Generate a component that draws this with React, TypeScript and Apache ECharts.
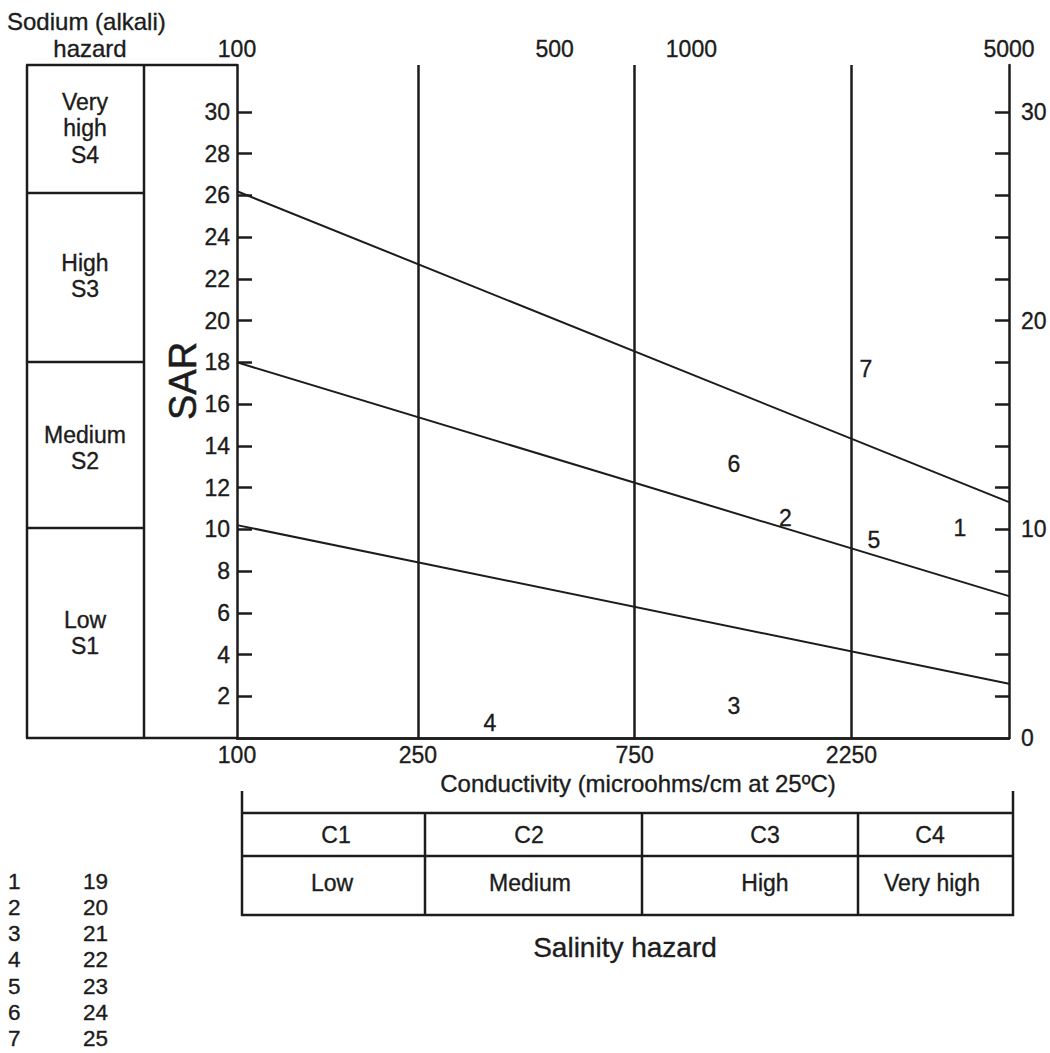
import React, { useEffect, useRef } from "react";
import * as echarts from "echarts";

// ---- data ----
const xMin = 100;
const xMax = 5000;
const ySarMax = 32.25;
const topTickValues = [100, 500, 1000, 5000];
const bottomTickValues = [100, 250, 750, 2250];
const classBoundaries = [250, 750, 2250];
const sarLeftTicks = [2, 4, 6, 8, 10, 12, 14, 16, 18, 20, 22, 24, 26, 28, 30];
const sarRightLabels = [0, 10, 20, 30];
const sarRightTicks = [2, 4, 6, 8, 10, 12, 14, 16, 18, 20, 22, 24, 26, 28, 30];

const lineS3S4 = [[100, 26.2], [5000, 11.3]];
const lineS2S3 = [[100, 18.0], [5000, 6.8]];
const lineS1S2 = [[100, 10.2], [5000, 2.6]];

const sampleIds = ["1", "2", "3", "4", "5", "6", "7"];
const sampleEC = [3900, 1610, 1240, 360, 2520, 1240, 2420];
const sampleSAR = [10.05, 10.55, 1.55, 0.72, 9.5, 13.15, 17.7];

const sodiumClasses = [
  ["Very", "high", "S4"],
  ["High", "S3"],
  ["Medium", "S2"],
  ["Low", "S1"],
];
const salinityCodes = ["C1", "C2", "C3", "C4"];
const salinityNames = ["Low", "Medium", "High", "Very high"];
const legendLeft = ["1", "2", "3", "4", "5", "6", "7"];
const legendRight = ["19", "20", "21", "22", "23", "24", "25"];

const FONT = "'Liberation Sans', Arial, Helvetica, sans-serif";
const INK = "#1c1c1c";
const BORDER = 0.35;

export default function App() {
  const ref = useRef<HTMLDivElement>(null);

  useEffect(() => {
    if (!ref.current) return;
    const chart = echarts.init(ref.current, undefined, { renderer: "svg" });

    const txt = (x: number, y: number, s: string, size = 23, align = "center", extra: any = {}) => ({
      type: "text",
      x,
      y,
      style: {
        text: s,
        font: `${size}px ${FONT}`,
        fill: INK,
        stroke: INK,
        lineWidth: BORDER,
        align,
        verticalAlign: "middle",
      },
      ...extra,
    });
    const ln = (x1: number, y1: number, x2: number, y2: number, w = 2.5) => ({
      type: "line",
      shape: { x1, y1, x2, y2 },
      style: { stroke: INK, lineWidth: w },
    });

    const graphics: any[] = [];
    // top-left heading
    graphics.push(txt(7, 21, "Sodium (alkali)", 24, "left"));
    graphics.push(txt(90, 48, "hazard", 24, "center"));
    // left hazard table
    graphics.push(ln(26, 65, 237, 65));
    graphics.push(ln(26, 738, 237, 738));
    graphics.push(ln(27, 65, 27, 738));
    graphics.push(ln(144, 65, 144, 738));
    [193, 362, 528].forEach((y) => graphics.push(ln(27, y, 144, y)));
    const classCenters = [128, 276, 448, 633];
    sodiumClasses.forEach((rows, i) => {
      const lh = 26.5;
      const start = classCenters[i] - ((rows.length - 1) * lh) / 2;
      rows.forEach((r, j) => graphics.push(txt(85, start + j * lh, r, 23)));
    });
    // SAR label
    graphics.push({
      type: "text",
      x: 183,
      y: 381,
      rotation: Math.PI / 2,
      style: {
        text: "SAR",
        font: `38px ${FONT}`,
        fill: INK,
        stroke: INK,
        lineWidth: 0.5,
        align: "center",
        verticalAlign: "middle",
      },
    });
    // conductivity label
    graphics.push(txt(638, 783, "Conductivity (microohms/cm at 25ºC)", 24));
    // salinity table
    graphics.push(ln(242, 791, 242, 916));
    graphics.push(ln(1013, 791, 1013, 916));
    graphics.push(ln(241, 813, 1014, 813));
    graphics.push(ln(241, 856, 1014, 856));
    graphics.push(ln(241, 915, 1014, 915));
    [425, 642, 858].forEach((x) => graphics.push(ln(x, 813, x, 915)));
    const codeX = [336, 529, 765, 930];
    const nameX = [332, 530, 765, 932];
    salinityCodes.forEach((c, i) => graphics.push(txt(codeX[i], 835, c, 23)));
    salinityNames.forEach((c, i) => graphics.push(txt(nameX[i], 883, c, 23)));
    graphics.push(txt(625, 947, "Salinity hazard", 28));
    // legend
    legendLeft.forEach((s, i) => {
      const y = 881 + i * 26.3;
      graphics.push(txt(8, y, s, 22.5, "left"));
      graphics.push(txt(83, y, legendRight[i], 22.5, "left"));
    });

    const lineSeries = (data: number[][], extra: any = {}) => ({
      type: "line",
      data,
      xAxisIndex: 0,
      yAxisIndex: 0,
      showSymbol: false,
      symbol: "none",
      lineStyle: { color: INK, width: 2 },
      silent: true,
      ...extra,
    });

    const axisLabelBase = {
      fontSize: 23,
      fontFamily: FONT,
      color: INK,
      textBorderColor: INK,
      textBorderWidth: BORDER,
    };

    chart.setOption({
      animation: false,
      backgroundColor: "#ffffff",
      textStyle: { fontFamily: FONT, color: INK },
      grid: { left: 237, right: 41, top: 65, bottom: 315, containLabel: false },
      xAxis: [
        {
          type: "log",
          logBase: 10,
          min: xMin,
          max: xMax,
          position: "bottom",
          axisLine: { show: true, lineStyle: { color: INK, width: 2.5 } },
          axisTick: { show: false },
          splitLine: { show: false },
          minorTick: { show: false },
          axisLabel: {
            ...axisLabelBase,
            customValues: bottomTickValues,
            formatter: (v: number) => String(Math.round(v)),
            margin: 5,
          },
        },
        {
          type: "log",
          logBase: 10,
          min: xMin,
          max: xMax,
          position: "top",
          axisLine: { show: true, lineStyle: { color: INK, width: 2.5 } },
          axisTick: { show: false },
          splitLine: { show: false },
          axisLabel: {
            ...axisLabelBase,
            customValues: topTickValues,
            formatter: (v: number) => String(Math.round(v)),
            margin: 5,
          },
        },
      ],
      yAxis: [
        {
          type: "value",
          min: 0,
          max: ySarMax,
          position: "left",
          axisLine: { show: true, lineStyle: { color: INK, width: 2.5 } },
          axisTick: {
            show: true,
            inside: true,
            length: 15,
            customValues: sarLeftTicks,
            lineStyle: { color: INK, width: 2.5 },
          },
          splitLine: { show: false },
          axisLabel: {
            ...axisLabelBase,
            customValues: sarLeftTicks,
            margin: 7,
          },
        },
        {
          type: "value",
          min: 0,
          max: ySarMax,
          position: "right",
          axisLine: { show: true, lineStyle: { color: INK, width: 2.5 } },
          axisTick: {
            show: true,
            inside: true,
            length: 14,
            customValues: sarRightTicks,
            lineStyle: { color: INK, width: 2.5 },
          },
          splitLine: { show: false },
          axisLabel: {
            ...axisLabelBase,
            customValues: sarRightLabels,
            margin: 12,
          },
        },
      ],
      series: [
        lineSeries(lineS3S4, {
          markLine: {
            silent: true,
            symbol: "none",
            label: { show: false },
            lineStyle: { color: INK, width: 2.5, type: "solid" },
            data: classBoundaries.map((v) => ({ xAxis: v })),
          },
        }),
        lineSeries(lineS2S3),
        lineSeries(lineS1S2),
        {
          type: "scatter",
          data: sampleIds.map((id, i) => [sampleEC[i], sampleSAR[i], id]),
          symbolSize: 0,
          itemStyle: { color: INK, opacity: 1 },
          silent: true,
          label: {
            show: true,
            position: "inside",
            formatter: (p: any) => p.data[2],
            fontSize: 23,
            fontFamily: FONT,
            color: INK,
            opacity: 1,
            textBorderColor: INK,
            textBorderWidth: BORDER,
          },
        },
      ],
      graphic: graphics,
    });

    return () => chart.dispose();
  }, []);

  return (
    <div
      ref={ref}
      style={{ position: "absolute", left: 0, top: 0, width: 1050, height: 1053, background: "#fff" }}
    />
  );
}
